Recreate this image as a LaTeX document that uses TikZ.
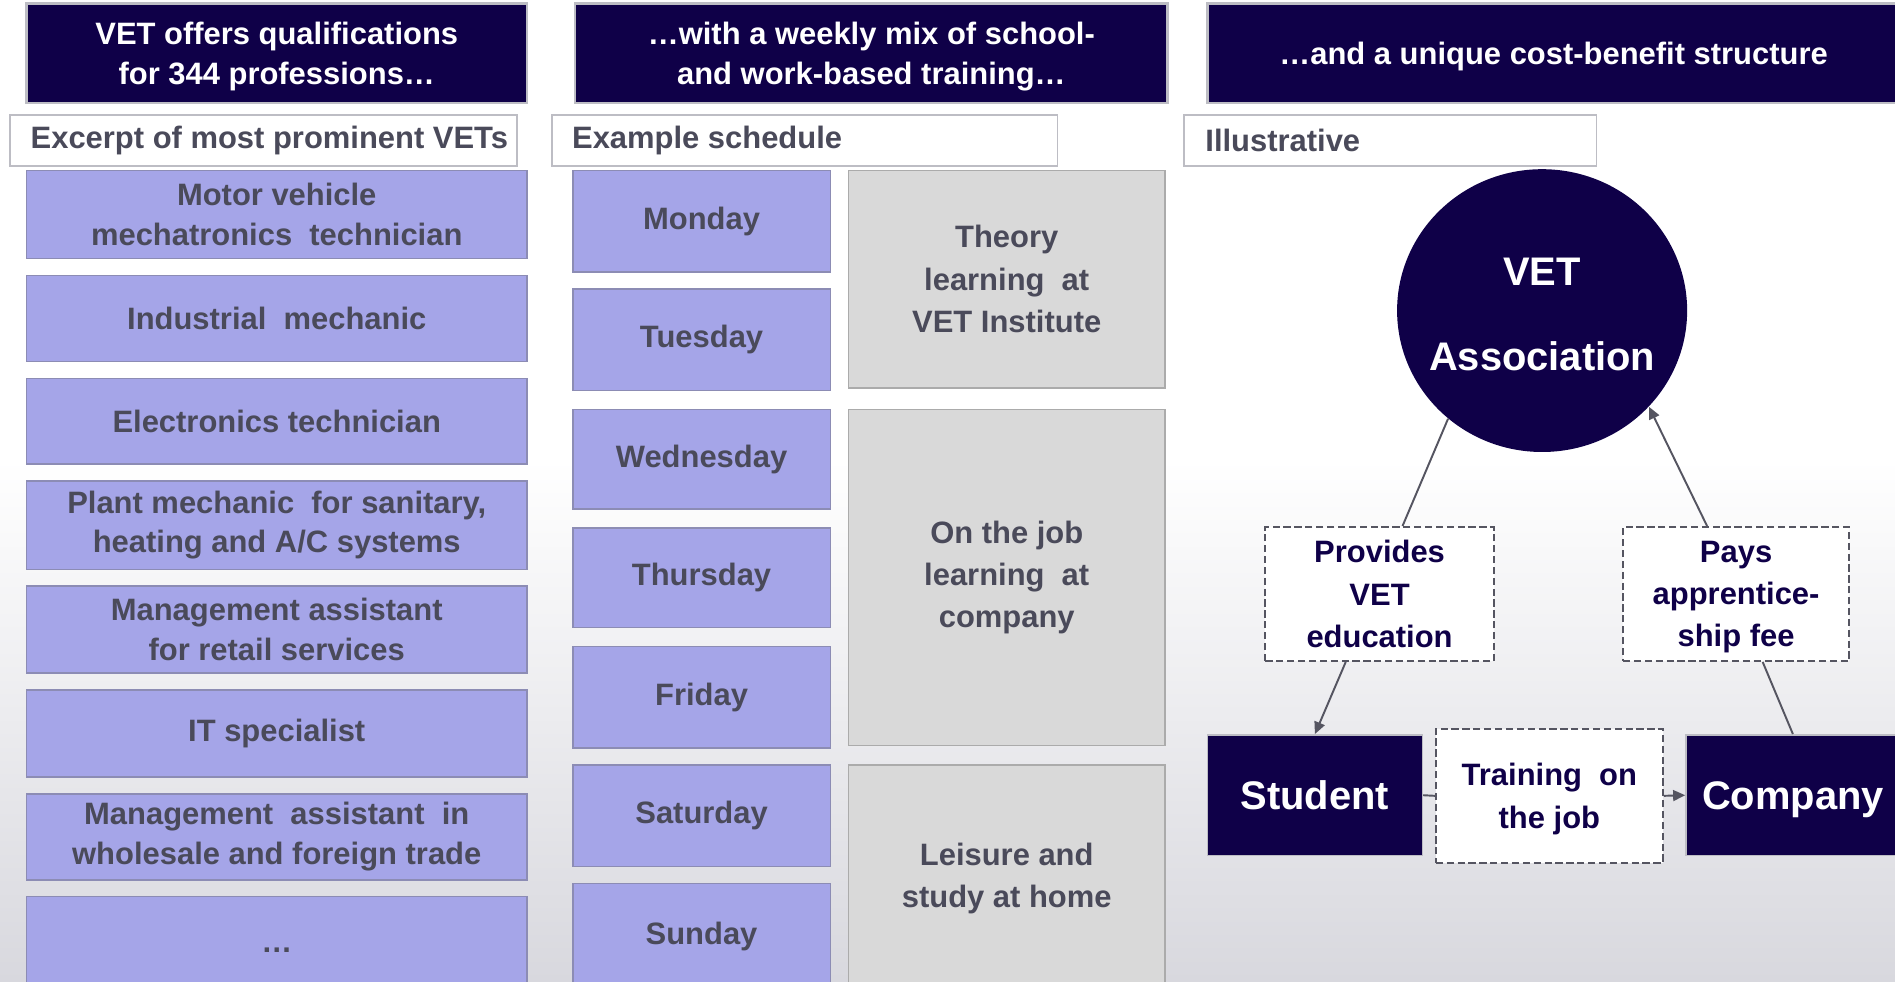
\documentclass[tikz,border=0pt]{standalone}
\usepackage{fontspec}
\setmainfont{Liberation Sans}
\usetikzlibrary{arrows.meta,shapes.geometric,calc}
\definecolor{navy}{HTML}{0F0048}
\definecolor{hdrborder}{HTML}{BDBDC4}
\definecolor{lav}{HTML}{A5A5E8}
\definecolor{lavborder}{HTML}{8C8CB4}
\definecolor{lgray}{HTML}{D9D9D9}
\definecolor{grayborder}{HTML}{ABABAB}
\definecolor{txtgray}{HTML}{4A4A5A}
\definecolor{linecol}{HTML}{555561}
\definecolor{bgbot}{HTML}{D8D8DE}
\tikzset{
  base/.style={inner sep=0pt, align=center, font=\bfseries\fontsize{12.8}{16.5}\selectfont},
  hdr/.style={base, draw=hdrborder, line width=1pt, fill=navy, text=white, text depth=0pt},
  subbox/.style={base, draw=hdrborder, line width=0.8pt, fill=white},
  subtxt/.style={base, anchor=west, text=txtgray},
  lavbox/.style={base, draw=lavborder, line width=0.6pt, fill=lav, text=txtgray},
  graybox/.style={base, draw=grayborder, line width=0.6pt, fill=lgray, text=txtgray, font=\bfseries\fontsize{12.8}{17.5}\selectfont},
  dashbox/.style={base, draw=linecol, line width=0.75pt, dash pattern=on 3pt off 1.5pt, fill=white, text=navy, text depth=0pt, font=\bfseries\fontsize{12.8}{17.5}\selectfont},
  darkbox/.style={base, draw=hdrborder, line width=0.6pt, fill=navy, text=white, text depth=0pt, font=\bfseries\fontsize{16.5}{20}\selectfont},
  conn/.style={draw=linecol, line width=0.8pt},
  arr/.style={conn, -{Triangle[length=5pt,width=4.5pt]}}
}
% box from (x1,y1) to (x2,y2) in pixel units: \bx{style}{x1}{y1}{x2}{y2}{name}{text};
\newcommand\bx[6]{\node[#1, minimum width={(#4-#2)*0.5pt}, minimum height={(#5-#3)*0.5pt}] (#6) at ({(#2+#4)/2},{(#3+#5)/2})}
\begin{document}
\begin{tikzpicture}[x=0.5pt,y=-0.5pt]
\useasboundingbox (0,0) rectangle (1568,812);
\clip (0,0) rectangle (1568,812);
\fill[white] (0,0) rectangle (1568,381);
\shade[top color=white, bottom color=bgbot] (0,380) rectangle (1568,812);

% ---------- column 1 ----------
\bx{hdr}{22}{3}{436}{85}{h1} {VET offers qualifications\\for 344 professions…};
\bx{subbox}{8}{95}{428}{137}{s1} {};
\node[subtxt] (s1t) at (25,116) {Excerpt of most prominent VETs};
\bx{lavbox}{22}{141}{436}{214}{p1} {Motor vehicle\\mechatronics\ \ technician};
\bx{lavbox}{22}{228}{436}{299}{p2} {Industrial\ \ mechanic};
\bx{lavbox}{22}{313}{436}{384}{p3} {Electronics technician};
\bx{lavbox}{22}{398}{436}{471}{p4} {Plant mechanic\ \ for sanitary,\\heating and A/C systems};
\bx{lavbox}{22}{485}{436}{557}{p5} {Management assistant\\for retail services};
\bx{lavbox}{22}{571}{436}{643}{p6} {IT specialist};
\bx{lavbox}{22}{657}{436}{728}{p7} {Management\ \ assistant\ \ in\\wholesale and foreign trade};
\bx{lavbox}{22}{742}{436}{830}{p8} {…};

% ---------- column 2 ----------
\bx{hdr}{476}{3}{966}{85}{h2} {…with a weekly mix of school-\\and work-based training…};
\bx{subbox}{457}{95}{875}{137}{s2} {};
\node[subtxt] (s2t) at (473,116) {Example schedule};
\bx{lavbox}{474}{141}{687}{225}{d1} {Monday};
\bx{lavbox}{474}{239}{687}{323}{d2} {Tuesday};
\bx{lavbox}{474}{339}{687}{421}{d3} {Wednesday};
\bx{lavbox}{474}{437}{687}{519}{d4} {Thursday};
\bx{lavbox}{474}{535}{687}{619}{d5} {Friday};
\bx{lavbox}{474}{633}{687}{717}{d6} {Saturday};
\bx{lavbox}{474}{731}{687}{819}{d7} {Sunday};
\bx{graybox}{702}{141}{964}{321}{g1} {Theory\\learning\ \ at\\VET Institute};
\bx{graybox}{702}{339}{964}{617}{g2} {On the job\\learning\ \ at\\company};
\bx{graybox}{702}{633}{964}{821}{g3} {Leisure and\\study at home};

% ---------- column 3 ----------
\bx{hdr}{999}{3}{1572}{85}{h3} {…and a unique cost-benefit structure};
\bx{subbox}{980}{95}{1321}{137}{s3} {};
\node[subtxt] (s3t) at (997,116) {Illustrative};

\node[ellipse, fill=navy, inner sep=0pt, minimum width=120pt, minimum height=117pt] (vet) at (1276,257) {};
\node[base, text=white, font=\bfseries\fontsize{16.5}{35}\selectfont] (vett) at (1276,260) {VET\\Association};

\bx{dashbox}{1047}{436}{1236}{547}{prov} {Provides\\VET\\education};
\bx{dashbox}{1343}{436}{1530}{547}{pays} {Pays\\apprentice-\\ship fee};
\bx{darkbox}{999}{608}{1177}{708}{stud} {Student};
\bx{dashbox}{1188}{603}{1376}{714}{train} {Training\ \ on\\the job};
\bx{darkbox}{1395}{608}{1572}{708}{comp} {Company};

\draw[conn] (vet.229) -- ([xshift=9.5pt]prov.north);
\draw[arr] ([xshift=-14pt]prov.south) -- (stud.north);
\draw[conn] (comp.north) -- ([xshift=11pt]pays.south);
\draw[arr] ([xshift=-12pt]pays.north) -- (vet.318);
\draw[conn] (stud.east) -- (train.west);
\draw[arr] (train.east) -- (comp.west);
\end{tikzpicture}
\end{document}
